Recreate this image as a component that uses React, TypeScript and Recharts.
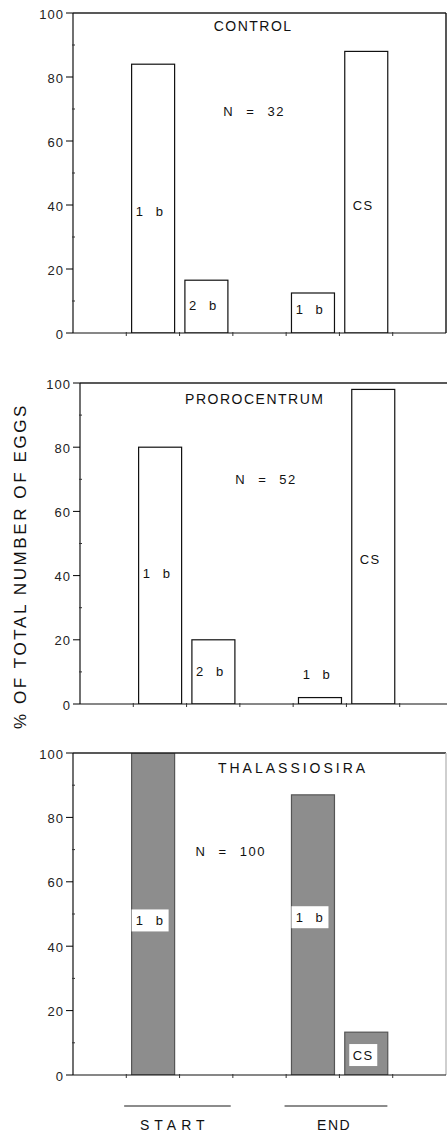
import React from 'react';
import { BarChart, Bar, XAxis, YAxis, ReferenceLine, ReferenceDot } from 'recharts';

const FONT = '"Liberation Sans", Arial, Helvetica, sans-serif';

const slots = ['s0', 's1', 's2', 's3', 's4', 's5', 's6'];
const slotCenters = [0.5, 1.5, 2.5, 3.5, 4.5, 5.5, 6.5];
const yTicks = [0, 10, 20, 30, 40, 50, 60, 70, 80, 90, 100];

const controlValues = [null, 84, 16.5, null, 12.5, 88, null];
const controlLabels = ['', '1 b', '2 b', '', '1 b', 'CS', ''];
const controlLabelAt = [0, 38, 8.7, 0, 7.5, 40, 0];

const proroValues = [null, 80, 20, null, 2, 98, null];
const proroLabels = ['', '1 b', '2 b', '', '1 b', 'CS', ''];
const proroLabelAt = [0, 40.5, 10, 0, 9.3, 45, 0];

const thalValues = [null, 100, null, null, 87, 13.3, null];
const thalLabels = ['', '1 b', '', '', '1 b', 'CS', ''];
const thalLabelAt = [0, 48, 0, 0, 49, 6.2, 0];

const groupNames = ['START', 'END'];
const groupStart = [0.96, 3.97];
const groupEnd = [2.96, 5.9];
const groupCenter = [1.91, 4.9];
const groupLineY = -9.6;
const groupTextY = -15.4;

const YTick = (props: any) => {
  const { x, y, payload } = props;
  const v = payload.value;
  if (v % 20 === 0) {
    return (
      <g>
        <line x1={x - 7} x2={x} y1={y} y2={y} stroke="#000" strokeWidth={1} />
        <text x={x - 9} y={y + 1} textAnchor="end" dominantBaseline="central" fontSize={13} fontFamily={FONT} letterSpacing={1} fill="#222">
          {v}
        </text>
      </g>
    );
  }
  return <line x1={x - 1} x2={x + 2} y1={y} y2={y} stroke="#333" strokeWidth={1} />;
};

const XTick = (props: any) => {
  const { x, y, index, width } = props;
  const band = (typeof width === 'number' && width > 0 ? width : 373) / slots.length;
  if (!index) return <g />;
  const bx = x - band / 2;
  return <line x1={bx} x2={bx} y1={y - 1} y2={y + 3} stroke="#333" strokeWidth={1} />;
};

const makeShape = (shaded: boolean) => (props: any) => {
  const { x, y, width, height, payload } = props;
  if (payload == null || payload.v == null || !isFinite(height)) return <g />;
  const unit = height / payload.v;
  const ly = y + height - payload.at * unit;
  const cx = x + width / 2 - 3;
  const label: string = payload.label;
  const boxW = 10 + label.length * 9;
  return (
    <g>
      <rect x={x} y={y} width={width} height={height} fill={shaded ? '#8d8d8d' : '#fff'} stroke={shaded ? '#555' : '#111'} strokeWidth={1.2} />
      {label && shaded && <rect x={cx - boxW / 2} y={ly - 11} width={boxW} height={22} fill="#fff" />}
      {label && (
        <text x={cx} y={ly} textAnchor="middle" dominantBaseline="central" fontSize={13} fontFamily={FONT} letterSpacing={1.5} wordSpacing={6} fill="#111">
          {label}
        </text>
      )}
    </g>
  );
};

const textShape = (txt: string, size: number, spacing: number, wordSp: number) => (p: any) => (
  <text x={p.cx} y={p.cy} textAnchor="middle" dominantBaseline="central" fontSize={size} fontFamily={FONT} letterSpacing={spacing} wordSpacing={wordSp} fill="#111">
    {txt}
  </text>
);

type PanelProps = {
  top: number;
  width: number;
  height: number;
  axisW: number;
  values: (number | null)[];
  labels: string[];
  labelAt: number[];
  title: string;
  titleX: number;
  titleY: number;
  titleSpacing: number;
  nText: string;
  nX: number;
  nY: number;
  shaded: boolean;
  rightBorder: string | null;
  showGroups: boolean;
};

function Panel(p: PanelProps) {
  const data = slots.map((s, i) => ({ slot: s, pos: slotCenters[i], v: p.values[i], label: p.labels[i], at: p.labelAt[i] }));
  return (
    <div style={{ position: 'absolute', top: p.top, left: 0 }}>
      <BarChart
        width={p.width}
        height={p.height}
        data={data}
        margin={{ top: 13, right: 1, left: 0, bottom: p.showGroups ? 53 : 4 }}
        barCategoryGap="10%"
      >
        <XAxis
          xAxisId="c"
          dataKey="slot"
          interval={0}
          height={8}
          tickLine={false}
          tickSize={0}
          tickMargin={0}
          axisLine={{ stroke: '#111', strokeWidth: 1.2 }}
          tick={<XTick />}
        />
        <XAxis xAxisId="n" dataKey="pos" type="number" domain={[0, 7]} allowDataOverflow hide />
        <YAxis
          yAxisId="y"
          type="number"
          domain={[0, 100]}
          allowDataOverflow
          ticks={yTicks}
          interval={0}
          width={p.axisW}
          tickLine={false}
          tickSize={0}
          tickMargin={0}
          axisLine={{ stroke: '#111', strokeWidth: 1.2 }}
          tick={<YTick />}
        />
        <ReferenceLine xAxisId="n" yAxisId="y" y={100} stroke="#222" strokeWidth={1.4} />
        {p.rightBorder && <ReferenceLine xAxisId="n" yAxisId="y" x={7} stroke={p.rightBorder} strokeWidth={1.4} />}
        <Bar xAxisId="c" yAxisId="y" dataKey="v" isAnimationActive={false} shape={makeShape(p.shaded)} />
        <ReferenceDot xAxisId="n" yAxisId="y" x={p.titleX} y={p.titleY} r={0} shape={textShape(p.title, 14, p.titleSpacing, 0)} />
        <ReferenceDot xAxisId="n" yAxisId="y" x={p.nX} y={p.nY} r={0} shape={textShape(p.nText, 13, 1.5, 7)} />
        {p.showGroups &&
          groupNames.map((g, i) => (
            <ReferenceLine
              key={'gl' + g}
              xAxisId="n"
              yAxisId="y"
              ifOverflow="visible"
              segment={[
                { x: groupStart[i], y: groupLineY },
                { x: groupEnd[i], y: groupLineY },
              ]}
              stroke="#666"
              strokeWidth={1.5}
            />
          ))}
        {p.showGroups &&
          groupNames.map((g, i) => (
            <ReferenceDot
              key={'gt' + g}
              xAxisId="n"
              yAxisId="y"
              ifOverflow="visible"
              x={groupCenter[i]}
              y={groupTextY}
              r={0}
              shape={textShape(g, 14, i === 0 ? 5 : 1.5, 0)}
            />
          ))}
      </BarChart>
    </div>
  );
}

export default function App() {
  return (
    <div style={{ position: 'absolute', left: 0, top: 0, width: 447, height: 1136, overflow: 'hidden', background: '#fff' }}>
      <Panel
        top={0}
        width={447}
        height={345}
        axisW={73}
        values={controlValues}
        labels={controlLabels}
        labelAt={controlLabelAt}
        title="CONTROL"
        titleX={3.38}
        titleY={95.9}
        titleSpacing={1.5}
        nText="N = 32"
        nX={3.4}
        nY={69.1}
        shaded={false}
        rightBorder="#111"
        showGroups={false}
      />
      <Panel
        top={370}
        width={454}
        height={346}
        axisW={80}
        values={proroValues}
        labels={proroLabels}
        labelAt={proroLabelAt}
        title="PROROCENTRUM"
        titleX={3.28}
        titleY={95}
        titleSpacing={1.5}
        nText="N = 52"
        nX={3.49}
        nY={69.8}
        shaded={false}
        rightBorder={null}
        showGroups={false}
      />
      <Panel
        top={740}
        width={447}
        height={396}
        axisW={73}
        values={thalValues}
        labels={thalLabels}
        labelAt={thalLabelAt}
        title="THALASSIOSIRA"
        titleX={4.13}
        titleY={95.3}
        titleSpacing={3}
        nText="N = 100"
        nX={2.96}
        nY={69.3}
        shaded={true}
        rightBorder="#bbb"
        showGroups={true}
      />
      <svg width={447} height={1136} style={{ position: 'absolute', left: 0, top: 0, pointerEvents: 'none' }}>
        <text
          x={20}
          y={566}
          transform="rotate(-90 20 566)"
          textAnchor="middle"
          dominantBaseline="central"
          fontSize={17}
          fontFamily={FONT}
          letterSpacing={2.6}
          fill="#111"
        >
          % OF TOTAL NUMBER OF EGGS
        </text>
      </svg>
    </div>
  );
}
